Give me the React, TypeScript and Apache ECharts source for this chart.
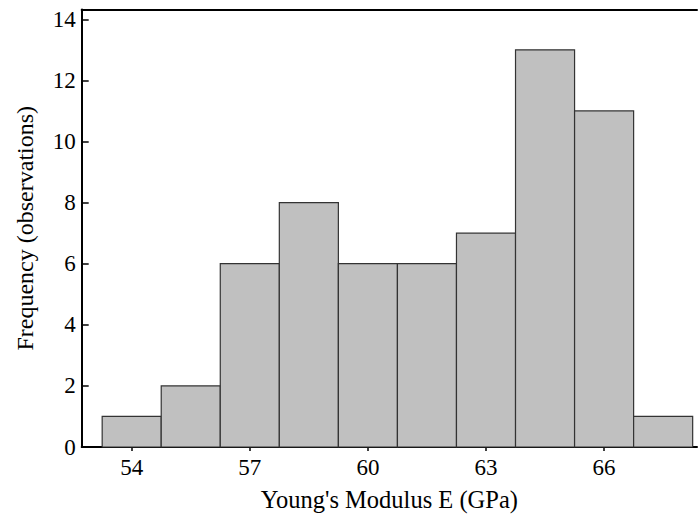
import React, { useEffect, useRef } from "react";
import * as echarts from "echarts";

const binEdges = [53.25, 54.75, 56.25, 57.75, 59.25, 60.75, 62.25, 63.75, 65.25, 66.75, 68.25];
const counts = [1, 2, 6, 8, 6, 6, 7, 13, 11, 1];
const xTicks = [54, 57, 60, 63, 66];
const yTicks = [0, 2, 4, 6, 8, 10, 12, 14];
const xTitle = "Young's Modulus E (GPa)";
const yTitle = "Frequency (observations)";

const FONT = "'Liberation Serif', 'Times New Roman', serif";

export default function App() {
  const ref = useRef<HTMLDivElement>(null);
  useEffect(() => {
    if (!ref.current) return;
    const chart = echarts.init(ref.current, undefined, { renderer: "svg" });
    const data = counts.map((c, i) => [binEdges[i], binEdges[i + 1], c]);
    chart.setOption({
      animation: false,
      backgroundColor: "#ffffff",
      grid: { left: 81.7, right: 1, top: 9.5, bottom: 69, containLabel: false },
      xAxis: [
        {
          type: "value",
          min: 52.73,
          max: 68.36,
          position: "bottom",
          name: xTitle,
          nameLocation: "middle",
          nameGap: 40,
          nameTextStyle: { fontFamily: FONT, fontSize: 24.5, color: "#000" },
          axisLine: { show: true, onZero: false, lineStyle: { color: "#000", width: 2 } },
          axisTick: { show: true, inside: false, length: 4, lineStyle: { color: "#000", width: 1.5 }, customValues: xTicks },
          axisLabel: { show: true, margin: 9, fontFamily: FONT, fontSize: 23, color: "#000", customValues: xTicks },
          splitLine: { show: false },
        },
        {
          type: "value",
          min: 52.73,
          max: 68.36,
          position: "top",
          axisLine: { show: true, onZero: false, lineStyle: { color: "#000", width: 2 } },
          axisTick: { show: false },
          axisLabel: { show: false },
          splitLine: { show: false },
        },
      ],
      yAxis: {
        type: "value",
        min: 0,
        max: 14.32,
        name: yTitle,
        nameLocation: "middle",
        nameGap: 45,
        nameTextStyle: { fontFamily: FONT, fontSize: 24, color: "#000" },
        axisLine: { show: true, onZero: false, lineStyle: { color: "#000", width: 2 } },
        axisTick: { show: true, inside: true, length: 7, lineStyle: { color: "#000", width: 1.5 }, customValues: yTicks },
        axisLabel: { show: true, margin: 6, fontFamily: FONT, fontSize: 23, color: "#000", customValues: yTicks },
        splitLine: { show: false },
      },
      series: [
        {
          type: "custom",
          xAxisIndex: 0,
          yAxisIndex: 0,
          data,
          renderItem: (params: any, api: any) => {
            const x0 = api.value(0);
            const x1 = api.value(1);
            const y = api.value(2);
            const p0 = api.coord([x0, y]);
            const p1 = api.coord([x1, 0]);
            return {
              type: "rect",
              shape: { x: p0[0], y: p0[1], width: p1[0] - p0[0], height: p1[1] - p0[1] },
              style: { fill: "#c0c0c0", stroke: "#333333", lineWidth: 1.2 },
            };
          },
          encode: { x: [0, 1], y: 2 },
        },
      ],
    });
    return () => chart.dispose();
  }, []);
  return (
    <div
      ref={ref}
      style={{ position: "fixed", left: 0, top: 0, width: 698, height: 517 }}
    />
  );
}
